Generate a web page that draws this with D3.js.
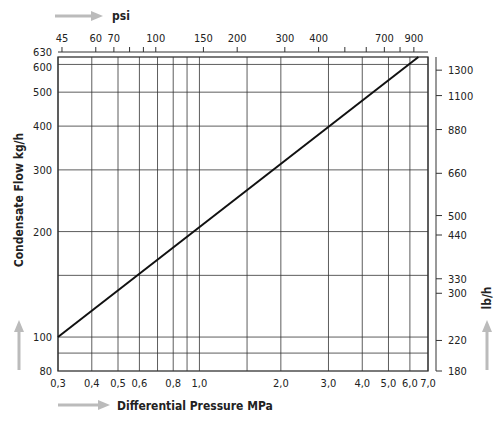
<!DOCTYPE html>
<html lang="en">
<head>
<meta charset="utf-8">
<title>Condensate Flow</title>
<script src="https://cdn.jsdelivr.net/npm/d3@7/dist/d3.min.js"></script>
<style>
body { margin:0; background:#fff; }
text { font-family: "DejaVu Sans Condensed", "DejaVu Sans", sans-serif; fill:#222; }
</style>
</head>
<body>
<script>
// data
var xGrid = [0.3,0.4,0.5,0.6,0.7,0.8,0.9,1.0,1.5,2.0,3.0,4.0,5.0,6.0,7.0];
var xLabels = [0.3,0.4,0.5,0.6,0.8,1.0,2.0,3.0,4.0,5.0,6.0,7.0];
var yGrid = [90,100,150,200,300,400,500,600];
var yLabels = [80,100,200,300,400,500,600,630];
var psiTicks = [45,60,70,80,90,100,150,200,300,400,500,600,700,800,900];
var psiLabels = [45,60,70,100,150,200,300,400,700,900];
var lbTicks = [180,220,300,330,440,500,660,880,1100,1300];
var flowLine = [[0.3,100],[6.45,630]];
var psiPerMPa = 145, lbPerKg = 2.25;

var svg = d3.select("body").append("svg").attr("width",500).attr("height",421);
var L = 58, R = 428, T = 57, B = 371;
var x = d3.scaleLog().domain([0.3,7.0]).range([L,R]);
var y = d3.scaleLog().domain([80,630]).range([B,T]);
var fmt = function(d){ return d.toFixed(1).replace(".",","); };

// grid
svg.selectAll(".vg").data(xGrid).enter().append("line")
  .attr("x1",d=>x(d)).attr("x2",d=>x(d)).attr("y1",T).attr("y2",B)
  .attr("stroke","#333").attr("stroke-width",0.8);
svg.selectAll(".hg").data(yGrid).enter().append("line")
  .attr("x1",L).attr("x2",R).attr("y1",d=>y(d)).attr("y2",d=>y(d))
  .attr("stroke","#333").attr("stroke-width",0.8);
svg.append("rect").attr("x",L).attr("y",T).attr("width",R-L).attr("height",B-T)
  .attr("fill","none").attr("stroke","#333").attr("stroke-width",1.3);

// bottom labels
svg.selectAll(".xl").data(xLabels).enter().append("text")
  .attr("x",d=>x(d)).attr("y",B+16).attr("text-anchor","middle")
  .attr("font-size",11).text(fmt);
// left labels (630 nudged up so it clears 600)
svg.selectAll(".yl").data(yLabels).enter().append("text")
  .attr("x",L-6).attr("y",d=>y(d)+(d===630?-1:d===600?7:4)).attr("text-anchor","end")
  .attr("font-size",11).text(d=>d);

// top psi axis
var xp = d3.scaleLog().domain([0.3*psiPerMPa,7.0*psiPerMPa]).range([L,R]);
var psiAxis = svg.append("g").attr("transform","translate(0,52)");
psiAxis.append("line").attr("x1",L).attr("x2",R).attr("stroke","#333");
psiAxis.selectAll("line.t").data(psiTicks).enter().append("line").attr("class","t")
  .attr("x1",d=>xp(d)).attr("x2",d=>xp(d)).attr("y1",0).attr("y2",-5).attr("stroke","#333");
psiAxis.selectAll("text").data(psiLabels).enter().append("text")
  .attr("x",d=>xp(d)).attr("y",-10).attr("text-anchor","middle").attr("font-size",11).text(d=>d);

// right lb/h axis
var yl = d3.scaleLog().domain([80*lbPerKg,630*lbPerKg]).range([B,T]);
var lbAxis = svg.append("g").attr("transform","translate(436,0)");
lbAxis.append("line").attr("y1",T).attr("y2",B).attr("stroke","#333");
lbAxis.selectAll("line.t").data(lbTicks).enter().append("line").attr("class","t")
  .attr("y1",d=>yl(d)).attr("y2",d=>yl(d)).attr("x1",0).attr("x2",6).attr("stroke","#333");
lbAxis.selectAll("text").data(lbTicks).enter().append("text")
  .attr("x",12).attr("y",d=>yl(d)+4).attr("font-size",11).text(d=>d);

// curve
svg.append("path").datum(flowLine)
  .attr("d",d3.line().x(d=>x(d[0])).y(d=>y(d[1])))
  .attr("stroke","#111").attr("stroke-width",2).attr("fill","none");

// arrows
function arrowH(x0,yy,len){
  svg.append("line").attr("x1",x0).attr("x2",x0+len-10).attr("y1",yy).attr("y2",yy)
    .attr("stroke","#bbb").attr("stroke-width",3);
  svg.append("path").attr("d","M"+(x0+len-12)+","+(yy-5)+"L"+(x0+len)+","+yy+"L"+(x0+len-12)+","+(yy+5)+"Z").attr("fill","#bbb");
}
function arrowV(xx,y0,len){
  svg.append("line").attr("x1",xx).attr("x2",xx).attr("y1",y0).attr("y2",y0-len+10)
    .attr("stroke","#bbb").attr("stroke-width",3);
  svg.append("path").attr("d","M"+(xx-5)+","+(y0-len+12)+"L"+xx+","+(y0-len)+"L"+(xx+5)+","+(y0-len+12)+"Z").attr("fill","#bbb");
}
arrowH(55,16,48);
svg.append("text").attr("x",112).attr("y",20).attr("font-size",12).attr("font-weight","bold").text("psi");
arrowH(58,405,52);
svg.append("text").attr("x",117).attr("y",410).attr("font-size",12).attr("font-weight","bold").text("Differential Pressure MPa");
arrowV(19,370,50);
svg.append("text").attr("transform","translate(23,200) rotate(-90)").attr("text-anchor","middle")
  .attr("font-size",12).attr("font-weight","bold").text("Condensate Flow kg/h");
arrowV(487,370,50);
svg.append("text").attr("transform","translate(491,298) rotate(-90)").attr("text-anchor","middle")
  .attr("font-size",12).attr("font-weight","bold").text("lb/h");
</script>
</body>
</html>
